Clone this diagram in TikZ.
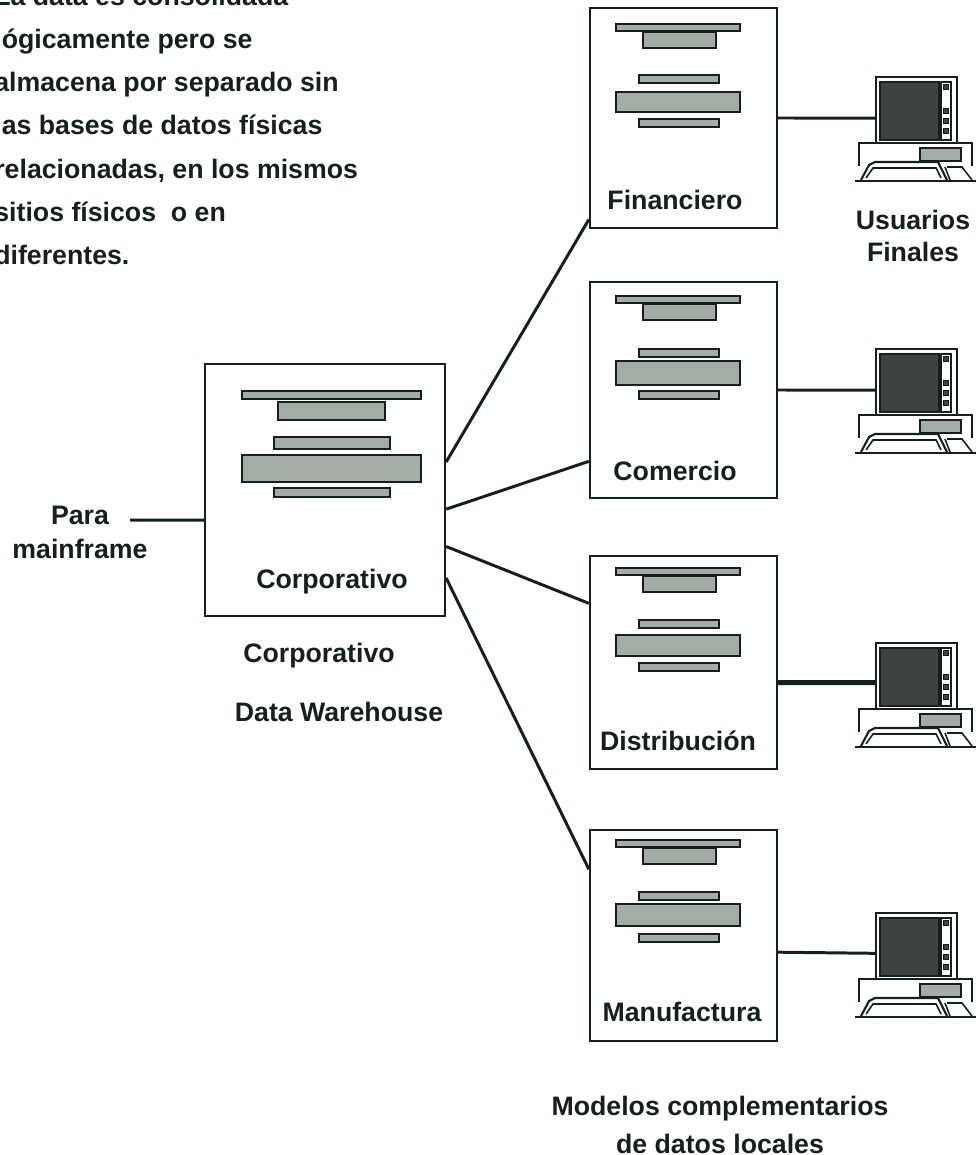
\documentclass[tikz,border=0pt]{standalone}
\usepackage{fontspec}
\setmainfont{Liberation Sans}
\definecolor{barfill}{HTML}{A4ACA6}
\definecolor{screenfill}{HTML}{3E4340}
\definecolor{ink}{HTML}{15201C}

\tikzset{
  box/.style={draw=ink,rectangle,line width=1.3pt,minimum width=#1,inner sep=0},
  bar/.style={draw=ink,fill=barfill,line width=1.2pt},
  wire/.style={draw=ink,line width=1.7pt},
  label/.style={font=\bfseries\fontsize{15.2}{21}\selectfont,text=ink,align=center,inner sep=0}
}

\newcommand{\dbbars}[5]{
  \draw[bar] (616,#1) rectangle (740,#1+7);
  \draw[bar] (643,#1+8) rectangle (716,#1+24);
  \draw[bar] (639,#2) rectangle (719,#2+8);
  \draw[bar] (616,#3) rectangle (740,#4);
  \draw[bar] (639,#5) rectangle (719,#5+8);
}

\newcommand{\computer}[2]{
  \begin{scope}[shift={(0,#2)}]
    \node (#1) at (916.5,110) [draw=ink,rectangle,line width=1.2pt,minimum width=46pt,minimum height=38pt,inner sep=0]{};
    \draw[draw=ink,fill=screenfill,line width=.8pt] (880,82) rectangle (939,140);
    \draw[draw=ink,line width=.8pt] (941,82) rectangle (951,140);
    \foreach \y in {87,111,121,131}
      \draw[draw=ink,fill=screenfill,line width=.5pt] (943.5,\y-2.5) rectangle (948.5,\y+2.5);
    \draw[draw=ink,line width=1.2pt] (859,166) -- (859,143) -- (972,143) -- (972,166);
    \draw[bar,line width=.9pt] (920,148) rectangle (961,161);
    \draw[draw=ink,line width=1.2pt,fill=white] (861,180) -- (869,165) -- (875,162) -- (938,162) -- (947,180);
    \draw[draw=ink,line width=.9pt] (866,178) -- (873,168) -- (936,168) -- (941,178);
    \draw[draw=ink,line width=.9pt] (947,167) -- (962,167) -- (972,180) (950,180) -- (945,167);
    \draw[draw=ink,line width=1.5pt] (855,181) -- (976,181);
  \end{scope}
}

\begin{document}
\begin{tikzpicture}[x=0.02cm,y=-0.02cm]

  \path[use as bounding box,clip] (0,0) rectangle (976,1155);

  % boxes
  \node (corp) at (325,490) [box=240*0.02cm,minimum height=252*0.02cm]{};
  \node (fin) at (683.5,118) [box=187*0.02cm,minimum height=220*0.02cm]{};
  \node (com) at (683.5,390) [box=187*0.02cm,minimum height=216*0.02cm]{};
  \node (dis) at (683.5,662.5) [box=187*0.02cm,minimum height=213*0.02cm]{};
  \node (man) at (683.5,935.5) [box=187*0.02cm,minimum height=211*0.02cm]{};

  % bars
  \draw[bar] (242,391) rectangle (421,399);
  \draw[bar] (278,402) rectangle (385,420);
  \draw[bar] (274,437) rectangle (390,449);
  \draw[bar] (242,455) rectangle (421,482);
  \draw[bar] (274,488) rectangle (390,497);
  \dbbars{24}{75}{92}{112}{119}
  \dbbars{296}{349}{361}{385}{391}
  \dbbars{568}{620}{635}{656}{663}
  \dbbars{840}{892}{904}{926}{934}

  \computer{pcfin}{0}
  \computer{pccom}{272}
  \computer{pcdis}{566}
  \computer{pcman}{836}

  \coordinate (mainend) at (130,520);

  \draw[wire] (mainend) -- (corp.194);
  \draw[wire] (corp.13) -- (fin.227);
  \draw[wire] (corp.-9.5) -- (com.217);
  \draw[wire] (corp.-25.4) -- (dis.148);
  \draw[wire] (corp.-36.9) -- (man.145);

  \draw[wire] (fin.east) -- (pcfin.191);
  \draw[wire] (com.east) -- (pccom.191);
  \draw[wire,line width=2.8pt] (dis.-12) -- (pcdis.189);
  \draw[wire] (man.-10.6) -- (pcman.190);

  \node (note) at (-6,-14.5) [label,anchor=north west,align=left,font=\bfseries\fontsize{15.2}{24.6}\selectfont]{La data es consolidada\\
    lógicamente pero se\\
    almacena por separado sin\\
    las bases de datos físicas\\
    relacionadas, en los mismos\\
    sitios físicos\ \ o en\\
    diferentes.};

  \node (fintext) at (675,200) [label]{Financiero};
  \node (comtext) at (675,471) [label]{Comercio};
  \node (distext) at (678,741) [label]{Distribución};
  \node (mantext) at (682,1012) [label]{Manufactura};
  \node (corptext) at (332,582) [label]{Corporativo};
  \node (corplabel) at (319,656) [label]{Corporativo};
  \node (dwlabel) at (339,712) [label]{Data Warehouse};
  \node (para) at (80,532) [label,font=\bfseries\fontsize{15.2}{19.4}\selectfont]{Para\\mainframe};
  \node (users) at (913,236) [label,font=\bfseries\fontsize{15.2}{18.7}\selectfont]{Usuarios\\Finales};
  \node (models) at (720,1125) [label,font=\bfseries\fontsize{15.2}{22}\selectfont]{Modelos complementarios\\de datos locales};

\end{tikzpicture}
\end{document}
